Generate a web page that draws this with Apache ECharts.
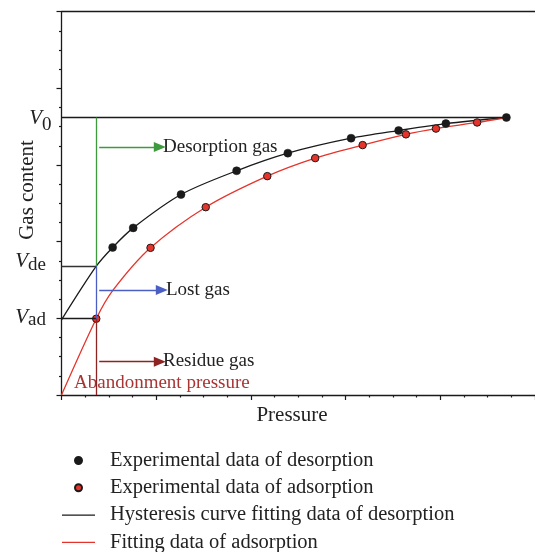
<!DOCTYPE html>
<html>
<head>
<meta charset="utf-8">
<script src="https://cdn.jsdelivr.net/npm/echarts@6/dist/echarts.min.js"></script>
<style>
  html, body { margin: 0; padding: 0; background: #fff; }
  #chart { width: 535px; height: 552px; }
</style>
</head>
<body>
<div id="chart"></div>
<script>
// values (x: pressure, y: gas content, arbitrary units)
const desorbPts = [[0.54, 38.5], [0.757, 43.6], [1.262, 52.3], [1.849, 58.5], [2.39, 63.1], [3.058, 67.0], [3.56, 69.0], [4.059, 70.8], [4.698, 72.4]]
const adsorbPts = [[0.367, 19.9], [0.94, 38.4], [1.523, 49.0], [2.173, 57.1], [2.679, 61.8], [3.18, 65.2], [3.637, 68.0], [3.954, 69.5], [4.389, 71.1]]
const desorbFit = [[0, 19.6], [0.367, 33.6], [0.54, 38.5], [0.757, 43.6], [1.262, 52.3], [1.849, 58.5], [2.39, 63.1], [3.058, 67.0], [3.56, 69.0], [4.059, 70.8], [4.698, 72.4]]
const adsorbFit = [[0, 0], [0.367, 19.9], [0.546, 27.4], [0.94, 38.4], [1.523, 49.0], [2.173, 57.1], [2.679, 61.8], [3.18, 65.2], [3.637, 68.0], [3.954, 69.5], [4.389, 71.1], [4.698, 72.4]]

const V0 = 72.4
const Vde = 33.6
const Vad = 19.9
const pAband = 0.367
const pEnd = 4.698
const arrowStart = 0.398
const arrowEnds = [1.038, 1.059, 1.038]
const arrowLevels = [64.7, 27.4, 8.7]

const legendNames = [
  'Experimental data of desorption',
  'Experimental data of adsorption',
  'Hysteresis curve fitting data of desorption',
  'Fitting data of adsorption'
]

const serif = '"Liberation Serif", "DejaVu Serif", serif'
const ink = '#1a1a1a'
const red = '#e5342b'
const green = '#3d9a3d'
const blue = '#4b5ec4'
const darkRed = '#8e2323'
const lineIcon = 'path://M0,0 H33 V1.2 H0 Z'

const chart = echarts.init(document.getElementById('chart'))

const seg = (x1, y1, x2, y2, color) => [
  { coord: [x1, y1], lineStyle: { color: color, width: 1.3, type: 'solid' } },
  { coord: [x2, y2] }
]

// V label with a subscript, drawn as two texts
const vLabel = (xr, yV, ySub, sub) => [
  { type: 'text', x: xr, y: yV,
    style: { text: 'V', font: 'italic 21px ' + serif, fill: '#222', align: 'right', verticalAlign: 'middle' } },
  { type: 'text', x: xr, y: ySub,
    style: { text: sub, font: '19px ' + serif, fill: '#222', align: 'left', verticalAlign: 'middle' } }
]

const option = {
  animation: false,
  grid: { left: 61.5, right: 0, top: 11.7, bottom: 157 },
  xAxis: [
    {
      type: 'value', min: 0, max: 5, interval: 1,
      axisLine: { lineStyle: { color: ink, width: 1.3 } },
      axisTick: { show: true, length: 5, lineStyle: { color: ink, width: 1.2 } },
      minorTick: { show: true, splitNumber: 4, length: 2.5, lineStyle: { color: ink, width: 1.2 } },
      axisLabel: { show: false },
      splitLine: { show: false }
    },
    {
      type: 'value', min: 0, max: 5, position: 'top',
      axisLine: { show: true, lineStyle: { color: ink, width: 1.3 } },
      axisTick: { show: false },
      axisLabel: { show: false },
      splitLine: { show: false }
    }
  ],
  yAxis: {
    type: 'value', min: 0, max: 100, interval: 20,
    axisLine: { show: true, lineStyle: { color: ink, width: 1.3 } },
    axisTick: { show: true, length: 5, lineStyle: { color: ink, width: 1.2 } },
    minorTick: { show: true, splitNumber: 4, length: 2.5, lineStyle: { color: ink, width: 1.2 } },
    axisLabel: { show: false },
    splitLine: { show: false }
  },
  legend: {
    orient: 'vertical',
    left: 57,
    top: 443.5,
    height: 120,
    itemWidth: 33,
    itemHeight: 7,
    itemGap: 3.3,
    textStyle: { fontFamily: serif, fontSize: 20.5, color: '#222', lineHeight: 24, padding: [0, 0, 0, 10] },
    data: [
      { name: legendNames[0], icon: 'circle' },
      { name: legendNames[1], icon: 'circle' },
      { name: legendNames[2], icon: lineIcon },
      { name: legendNames[3], icon: lineIcon }
    ]
  },
  graphic: [
    { type: 'text', x: 27, y: 190, rotation: Math.PI / 2,
      style: { text: 'Gas content', font: '21px ' + serif, fill: '#222', align: 'center', verticalAlign: 'middle' } },
    { type: 'text', x: 292, y: 415,
      style: { text: 'Pressure', font: '21px ' + serif, fill: '#222', align: 'center', verticalAlign: 'middle' } },
    { type: 'text', x: 74, y: 383,
      style: { text: 'Abandonment pressure', font: '19px ' + serif, fill: '#a83434', verticalAlign: 'middle' } },
    { type: 'text', x: 163, y: 147,
      style: { text: 'Desorption gas', font: '19px ' + serif, fill: '#222', verticalAlign: 'middle' } },
    { type: 'text', x: 166, y: 290,
      style: { text: 'Lost gas', font: '19px ' + serif, fill: '#222', verticalAlign: 'middle' } },
    { type: 'text', x: 163, y: 361,
      style: { text: 'Residue gas', font: '19px ' + serif, fill: '#222', verticalAlign: 'middle' } },
    ...vLabel(42, 118, 125, '0'),
    ...vLabel(28, 261, 265, 'de'),
    ...vLabel(28, 317, 320, 'ad')
  ],
  series: [
    {
      type: 'line', name: 'guides', data: [], silent: true,
      markLine: {
        silent: true, symbol: 'none', label: { show: false },
        data: [
          seg(0, V0, pEnd, V0, ink),
          seg(0, Vde, pAband, Vde, '#333'),
          seg(0, Vad, pAband, Vad, ink),
          seg(pAband, V0, pAband, Vde, green),
          seg(pAband, Vde, pAband, Vad, blue),
          seg(pAband, Vad, pAband, 0, darkRed)
        ]
      }
    },
    {
      type: 'line', name: 'arrows', data: [], silent: true,
      markLine: {
        silent: true, symbol: ['none', 'triangle'], symbolSize: [10, 12], label: { show: false },
        data: [
          seg(arrowStart, arrowLevels[0], arrowEnds[0], arrowLevels[0], green),
          seg(arrowStart, arrowLevels[1], arrowEnds[1], arrowLevels[1], blue),
          seg(arrowStart, arrowLevels[2], arrowEnds[2], arrowLevels[2], darkRed)
        ]
      }
    },
    {
      type: 'line', name: legendNames[2], data: desorbFit, smooth: 0.3,
      symbol: 'none', lineStyle: { color: ink, width: 1.3 }, itemStyle: { color: ink }, z: 3
    },
    {
      type: 'line', name: legendNames[3], data: adsorbFit, smooth: 0.3,
      symbol: 'none', lineStyle: { color: red, width: 1.3 }, itemStyle: { color: red }, z: 3
    },
    {
      type: 'scatter', name: legendNames[1], data: adsorbPts, symbolSize: 7.5,
      itemStyle: { color: red, borderColor: ink, borderWidth: 1, opacity: 1 }, z: 4
    },
    {
      type: 'scatter', name: legendNames[0], data: desorbPts, symbolSize: 8,
      itemStyle: { color: ink, borderColor: ink, borderWidth: 0.5, opacity: 1 }, z: 5
    }
  ]
}

chart.setOption(option)
</script>
</body>
</html>
